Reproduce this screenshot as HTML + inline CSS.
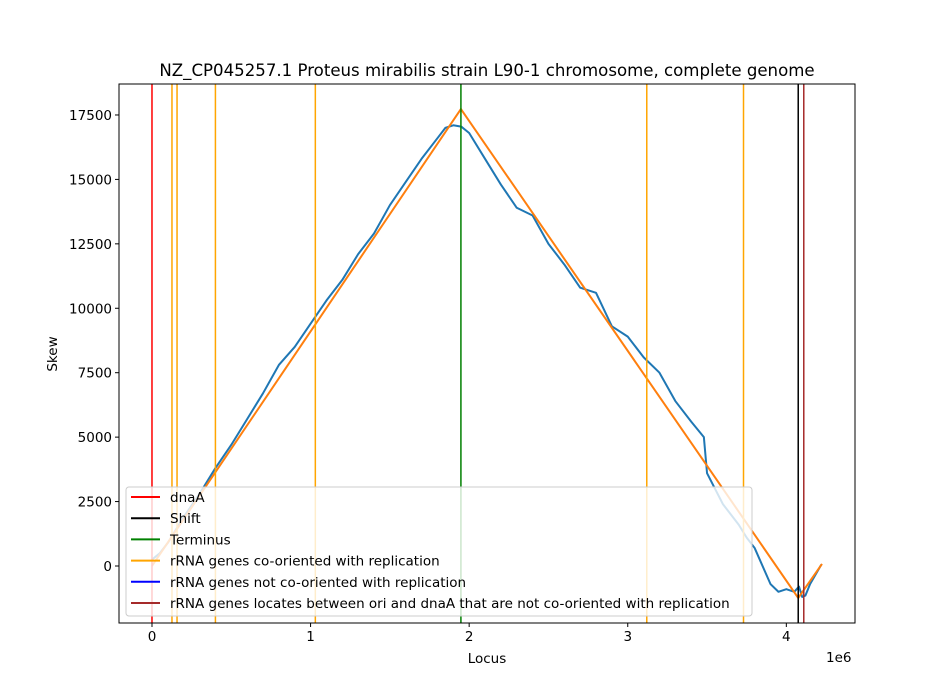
<!DOCTYPE html>
<html><head><meta charset="utf-8"><style>
body{margin:0;background:#fff;}
svg{display:block;font-family:"DejaVu Sans","Liberation Sans",sans-serif;}
</style></head><body>
<svg id="chart" width="950" height="700">
<rect width="950" height="700" fill="#fff"/>
<text x="487" y="76" font-size="16.6" text-anchor="middle">NZ_CP045257.1 Proteus mirabilis strain L90-1 chromosome, complete genome</text>
<g id="plot"></g>
</svg>
<script>
const locusX = [0,0.05,0.1,0.2,0.3,0.4,0.5,0.6,0.7,0.8,0.9,1.0,1.1,1.2,1.3,1.4,1.5,1.6,1.7,1.8,1.85,1.9,1.95,2.0,2.1,2.2,2.3,2.4,2.5,2.6,2.7,2.8,2.9,3.0,3.1,3.2,3.3,3.4,3.48,3.5,3.55,3.6,3.7,3.75,3.8,3.9,3.95,4.0,4.05,4.08,4.1,4.12,4.15,4.22];
const skewValues = [250,500,900,1900,2800,3800,4700,5700,6700,7800,8500,9400,10300,11100,12100,12900,14000,14900,15800,16600,17000,17100,17050,16800,15800,14800,13900,13600,12500,11700,10800,10600,9300,8900,8100,7500,6400,5600,5000,3600,3000,2400,1600,1100,700,-700,-1000,-900,-1000,-800,-1200,-1150,-700,50];
const fitX = [0,1.948,4.075,4.225];
const fitY = [0,17730,-1240,80];
const dnaA = [0];
const shift = [4.075];
const terminus = [1.948];
const rrnaCo = [0.126,0.158,0.40,1.03,3.12,3.73];
const rrnaBetween = [4.11];
const xTicks = [0,1,2,3,4];
const yTicks = [0,2500,5000,7500,10000,12500,15000,17500];

const L=119,R=855,T=84,B=623;
const xMin=-0.208,xMax=4.433,yMin=-2212,yMax=18702;
const sx=v=>L+(v-xMin)/(xMax-xMin)*(R-L);
const sy=v=>B-(v-yMin)/(yMax-yMin)*(B-T);
const NS="http://www.w3.org/2000/svg";
const g=document.getElementById('plot');
function mk(tag,attrs,parent){const e=document.createElementNS(NS,tag);for(const k in attrs)e.setAttribute(k,attrs[k]);(parent||g).appendChild(e);return e;}

function vlines(arr,color,name){arr.forEach(v=>{const e=mk('line',{x1:sx(v),x2:sx(v),y1:T,y2:B,stroke:color,'stroke-width':1.5});

});}

const blue=mk('polyline',{points:locusX.map((x,i)=>sx(x)+','+sy(skewValues[i])).join(' '),fill:'none',stroke:'#1f77b4','stroke-width':2,'stroke-linejoin':'round'});


const fit=mk('polyline',{points:fitX.map((x,i)=>sx(x)+','+sy(fitY[i])).join(' '),fill:'none',stroke:'#ff7f0e','stroke-width':2});


vlines(dnaA,'#ff0000','dnaA-line');
vlines(shift,'#000000','shift-line');
vlines(terminus,'#008000','terminus-line');
vlines(rrnaCo,'#ffa500','rrna-co-oriented-line');
vlines(rrnaBetween,'#a52a2a','rrna-between-line');

const frame=mk('rect',{x:L,y:T,width:R-L,height:B-T,fill:'none',stroke:'#000','stroke-width':1});



xTicks.forEach(v=>{mk('line',{x1:sx(v),x2:sx(v),y1:B,y2:B+4,stroke:'#000'});
const t=mk('text',{x:sx(v),y:B+18,'font-size':13.5,'text-anchor':'middle'});t.textContent=v;

});
yTicks.forEach(v=>{mk('line',{x1:L-4,x2:L,y1:sy(v),y2:sy(v),stroke:'#000'});
const t=mk('text',{x:L-7,y:sy(v)+5,'font-size':13.5,'text-anchor':'end'});t.textContent=v;

});
const off=mk('text',{x:826,y:662,'font-size':13.5});off.textContent='1e6';


const xt=mk('text',{x:487,y:663,'font-size':13.5,'text-anchor':'middle'});xt.textContent='Locus';


const yt=mk('text',{x:57,y:354,'font-size':13.5,'text-anchor':'middle',transform:'rotate(-90 57 354)'});yt.textContent='Skew';



const lg=mk('g',{});


mk('rect',{x:126,y:487,width:626,height:129,rx:3,fill:'#fff','fill-opacity':0.8,stroke:'#ccc'},lg);
const legItems=[['dnaA','#ff0000'],['Shift','#000000'],['Terminus','#008000'],['rRNA genes co-oriented with replication','#ffa500'],['rRNA genes not co-oriented with replication','#0000ff'],['rRNA genes locates between ori and dnaA that are not co-oriented with replication','#a52a2a']];
legItems.forEach((it,i)=>{const y=497+i*21.2;
const ent=mk('g',{},lg);


mk('line',{x1:131,x2:160,y1:y,y2:y,stroke:it[1],'stroke-width':2},ent);
const t=mk('text',{x:170,y:y+5,'font-size':13.5},ent);t.textContent=it[0];});
</script>
</body></html>
